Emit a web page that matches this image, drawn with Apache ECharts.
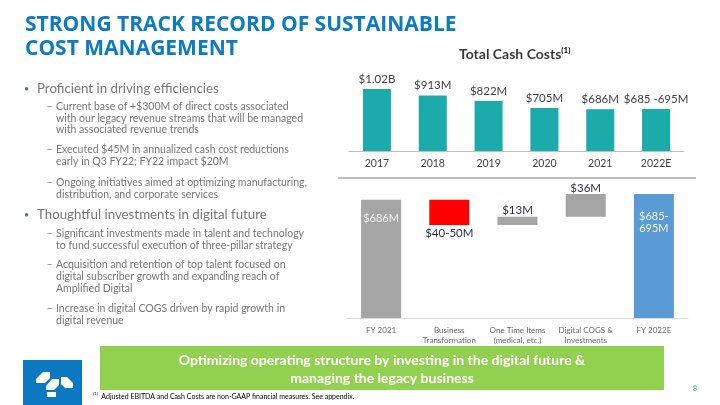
<!DOCTYPE html>
<html><head><meta charset="utf-8">
<script src="https://cdn.jsdelivr.net/npm/echarts/dist/echarts.min.js"></script>
<style>html,body{margin:0;padding:0;background:#fff}#c{width:720px;height:405px}</style>
</head><body><div id="c"></div><script>
// ---- Data ----
const years = ['2017', '2018', '2019', '2020', '2021', '2022E'];
const cashCosts = [1020, 913, 822, 705, 686, 690];
const cashLabels = ['$1.02B', '$913M', '$822M', '$705M', '$686M', '$685 -695M'];

const wfCategories = ['FY 2021', 'Business\nTransformation', 'One Time Items\n(medical, etc.)', 'Digital COGS &\nInvestments', 'FY 2022E'];
const wfValues = [686, -40, 13, 36, 695];
const wfKinds = ['total', 'delta', 'delta', 'delta', 'total'];
const wfLabels = ['$686M', '$40-50M', '$13M', '$36M', '$685-\n695M'];

const bulletText = [
  ['Proficient in driving efficiencies'],
  ['Thoughtful investments in digital future']
];
const subText = [
  [
    ['Current base of +$300M of direct costs associated', 'with our legacy revenue streams that will be managed', 'with associated revenue trends'],
    ['Executed $45M in annualized cash cost reductions', 'early in Q3 FY22; FY22 impact $20M'],
    ['Ongoing initiatives aimed at optimizing manufacturing,', 'distribution, and corporate services']
  ],
  [
    ['Significant investments made in talent and technology', 'to fund successful execution of three-pillar strategy'],
    ['Acquisition and retention of top talent focused on', 'digital subscriber growth and expanding reach of', 'Amplified Digital'],
    ['Increase in digital COGS driven by rapid growth in', 'digital revenue']
  ]
];

// ---- Waterfall build ----
const wfColors = ['#a5a5a5', '#ff0000', '#a5a5a5', '#a5a5a5', '#5b9bd5'];
const wfLabelStyle = [
  { position: 'insideTop', distance: 13, color: '#f2f2f2', fontSize: 11 },
  { position: 'bottom', distance: 2, color: '#1f2d4d', fontSize: 11.5 },
  { position: 'top', distance: 1, color: '#1f2d4d', fontSize: 11.5 },
  { position: 'top', distance: 0, color: '#1f2d4d', fontSize: 11.5 },
  { position: 'insideTop', distance: 17, color: '#f2f2f2', fontSize: 11, lineHeight: 12, align: 'center' }
];
let running = 0;
const wfBase = [], wfBar = [];
wfValues.forEach((v, i) => {
  let base, h;
  if (wfKinds[i] === 'total') { base = 0; h = v; running = v; }
  else if (v < 0) { running += v; base = running; h = -v; }
  else { base = running; h = v; running += v; }
  wfBase.push(base);
  wfBar.push({
    value: h,
    itemStyle: { color: wfColors[i] },
    label: Object.assign({ show: true, formatter: wfLabels[i], fontFamily: 'Lato' }, wfLabelStyle[i])
  });
});

// ---- Left text graphics ----
const FONT = 'Lato';
const TXT = '#767676';
const g = [];
g.push({ type: 'text', x: 25, y: 25, style: { text: 'STRONG TRACK RECORD OF SUSTAINABLE', font: 'bold 21px "Open Sans"', fill: '#0b7bc4', verticalAlign: 'middle' } });
g.push({ type: 'text', x: 25, y: 49, style: { text: 'COST MANAGEMENT', font: 'bold 21px "Open Sans"', fill: '#0b7bc4', verticalAlign: 'middle' } });

const bulletY = [89, 215];
const subY = [[[107, 118.5, 130], [150, 162], [183, 195]], [[234, 246], [265, 277, 288.5], [309, 320.5]]];
bulletText.forEach((b, bi) => {
  g.push({ type: 'text', x: 24, y: bulletY[bi], style: { text: '•', font: '9px ' + FONT, fill: '#5a6f8c', verticalAlign: 'middle' } });
  g.push({ type: 'text', x: 37, y: bulletY[bi], style: { text: b[0], font: '13.3px ' + FONT, fill: TXT, verticalAlign: 'middle' } });
  subText[bi].forEach((item, si) => {
    g.push({ type: 'text', x: 46.5, y: subY[bi][si][0], style: { text: '–', font: '10.5px ' + FONT, fill: '#5a7fa8', verticalAlign: 'middle' } });
    item.forEach((line, li) => {
      g.push({ type: 'text', x: 56, y: subY[bi][si][li], style: { text: line, font: '10.5px ' + FONT, fill: TXT, verticalAlign: 'middle' } });
    });
  });
});

// Chart title (top)
g.push({ type: 'text', x: 459, y: 54, style: {
  text: '{a|Total Cash Costs}{b|(1)}', verticalAlign: 'middle',
  rich: { a: { font: 'bold 14px Lato', fill: '#3a3a3a', color: '#3a3a3a' }, b: { fontSize: 8, fontWeight: 'bold', fontFamily: 'Lato', color: '#3a3a3a', verticalAlign: 'top', padding: [0, 0, 8, 0] } }
} });

// divider line
g.push({ type: 'line', shape: { x1: 338, y1: 178, x2: 696, y2: 178 }, style: { stroke: '#7f7f7f', lineWidth: 1 } });

// banner
g.push({ type: 'rect', shape: { x: 100, y: 346, width: 564, height: 44 }, style: { fill: '#92d050' } });
g.push({ type: 'text', x: 382, y: 360, style: { text: 'Optimizing operating structure by investing in the digital future &', font: 'bold 14px Lato', fill: '#ffffff', align: 'center', verticalAlign: 'middle' } });
g.push({ type: 'text', x: 382, y: 378, style: { text: 'managing the legacy business', font: 'bold 14px Lato', fill: '#ffffff', align: 'center', verticalAlign: 'middle' } });

// footnote
g.push({ type: 'text', x: 93, y: 397, style: {
  text: '{s|(1)} {t|Adjusted EBITDA and Cash Costs are non-GAAP financial measures. See appendix.}', verticalAlign: 'middle',
  rich: { s: { fontSize: 4.5, fontFamily: 'Lato', color: '#595959', verticalAlign: 'top' }, t: { fontSize: 7, fontFamily: 'Lato', color: '#595959' } }
} });
// page number
g.push({ type: 'text', x: 693, y: 389, style: { text: '8', font: 'bold 7px Lato', fill: '#5b9bd5', verticalAlign: 'middle' } });

// logo
g.push({ type: 'rect', shape: { x: 23, y: 360, width: 59, height: 45 }, style: { fill: '#0b78c2' } });
const logoPolys = [
  [[43, 372], [50, 372], [50, 378], [45, 383], [36, 383], [36, 379]],
  [[52, 379], [59, 379], [59, 385], [54, 390], [46, 390], [46, 386]],
  [[61, 377], [67, 377], [73, 383], [73, 388], [65, 388], [61, 384]],
  [[47, 392], [56, 392], [56, 397], [47, 397]]
];
logoPolys.forEach(p => g.push({ type: 'polygon', shape: { points: p }, style: { fill: '#ffffff' } }));

const chart = echarts.init(document.getElementById('c'), null, { renderer: 'canvas' });
chart.setOption({
  backgroundColor: '#ffffff',
  animation: false,
  textStyle: { fontFamily: 'Lato' },
  grid: [
    { left: 349, width: 335, top: 78, height: 73 },
    { left: 347, width: 341, top: 178, height: 140 }
  ],
  xAxis: [
    { type: 'category', gridIndex: 0, data: years,
      axisLine: { lineStyle: { color: '#bfbfbf' } }, axisTick: { show: false },
      axisLabel: { color: '#404040', fontSize: 10.5, margin: 7, fontFamily: 'Lato' } },
    { type: 'category', gridIndex: 1, data: wfCategories,
      axisLine: { lineStyle: { color: '#d9d9d9' } }, axisTick: { show: false },
      axisLabel: { color: '#666666', fontSize: 8, lineHeight: 10, margin: 7, fontFamily: 'Lato', interval: 0 } }
  ],
  yAxis: [
    { type: 'value', gridIndex: 0, min: 0, max: 1200, show: false, splitLine: { show: false } },
    { type: 'value', gridIndex: 1, min: 500, max: 720, show: false, splitLine: { show: false } }
  ],
  series: [
    { type: 'bar', xAxisIndex: 0, yAxisIndex: 0, data: cashCosts, barWidth: 28,
      itemStyle: { color: '#1aabaa' },
      label: { show: true, position: 'top', distance: 4, color: '#404040', fontSize: 11.5, fontFamily: 'Lato',
        formatter: p => cashLabels[p.dataIndex] } },
    { type: 'bar', xAxisIndex: 1, yAxisIndex: 1, stack: 'wf', data: wfBase, barWidth: 40,
      itemStyle: { color: 'rgba(0,0,0,0)' }, silent: true },
    { type: 'bar', xAxisIndex: 1, yAxisIndex: 1, stack: 'wf', data: wfBar, barWidth: 40 }
  ],
  graphic: g
});
</script></body></html>
